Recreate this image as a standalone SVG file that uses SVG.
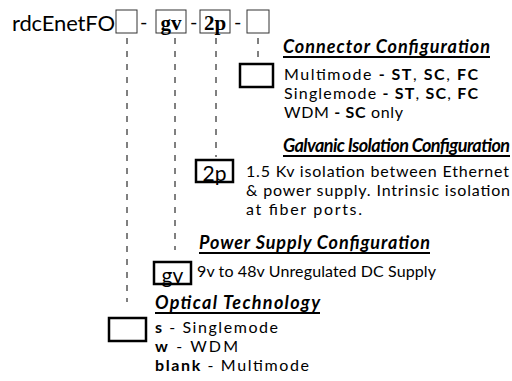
<svg xmlns="http://www.w3.org/2000/svg" width="512" height="381" viewBox="0 0 512 381">
<style>
text{font-family:Lato,"Open Sans","DejaVu Sans",sans-serif;fill:#000}
.t{font-size:16px}
.h{font-size:18px;font-weight:bold;font-style:italic}
.b{font-weight:bold}
.code{font-family:"Liberation Serif",serif;font-weight:bold;font-size:21px}
.sm{fill:#fff;stroke:#333;stroke-width:1}
.bx{fill:#fff;stroke:#000;stroke-width:2.5}
.ul{stroke:#000;stroke-width:2}
.dash{stroke:#000;stroke-width:1;stroke-dasharray:6 7;fill:none}
</style>
<g id="part-number">
<text x="12" y="31" font-size="22" textLength="103">rdcEnetFO</text>
<rect class="sm" x="116" y="10" width="21" height="23"/>
<text x="140" y="29" font-size="20">-</text>
<rect class="sm" x="156" y="10" width="30" height="23"/>
<text class="code" x="171" y="30" text-anchor="middle">gv</text>
<text x="190" y="29" font-size="20">-</text>
<rect class="sm" x="200" y="10" width="30" height="23"/>
<text class="code" x="215" y="30" text-anchor="middle">2p</text>
<text x="234" y="29" font-size="20">-</text>
<rect class="sm" x="247" y="10" width="22" height="23"/>
</g>
<g id="connectors">
<line class="dash" x1="127" y1="38" x2="127" y2="302"/>
<line class="dash" x1="175" y1="38" x2="175" y2="250"/>
<line class="dash" x1="216" y1="38" x2="216" y2="157"/>
<line class="dash" x1="258" y1="38" x2="258" y2="62"/>
</g>
<g id="connector-config">
<text class="h" x="283" y="53" textLength="207">Connector Configuration</text>
<line class="ul" x1="283" y1="57" x2="490" y2="57"/>
<rect class="bx" x="240" y="64" width="33" height="23"/>
<text class="t" x="284" y="80" textLength="194">Multimode <tspan class="b">- ST</tspan>, <tspan class="b">SC</tspan>, <tspan class="b">FC</tspan></text>
<text class="t" x="284" y="99" textLength="194">Singlemode <tspan class="b">- ST</tspan>, <tspan class="b">SC</tspan>, <tspan class="b">FC</tspan></text>
<text class="t" x="284" y="118" textLength="119">WDM <tspan class="b">- SC</tspan> only</text>
</g>
<g id="galvanic-config">
<text class="h" x="283" y="152" textLength="227">Galvanic Isolation Configuration</text>
<line class="ul" x1="283" y1="156" x2="510" y2="156"/>
<rect class="bx" x="196" y="160" width="37" height="22"/>
<text x="214.5" y="181" font-size="21" text-anchor="middle">2p</text>
<text class="t" x="246" y="177" textLength="263">1.5 Kv isolation between Ethernet</text>
<text class="t" x="246" y="196" textLength="264">&amp; power supply. Intrinsic isolation</text>
<text class="t" x="246" y="215" textLength="116">at fiber ports.</text>
</g>
<g id="power-config">
<text class="h" x="199" y="249" textLength="231">Power Supply Configuration</text>
<line class="ul" x1="199" y1="253" x2="430" y2="253"/>
<rect class="bx" x="154" y="262" width="37" height="22"/>
<text x="172.5" y="283" font-size="21" text-anchor="middle">gv</text>
<text class="t" x="197" y="277" textLength="239">9v to 48v Unregulated DC Supply</text>
</g>
<g id="optical-tech">
<text class="h" x="155" y="309" textLength="165">Optical Technology</text>
<line class="ul" x1="155" y1="313" x2="320" y2="313"/>
<rect class="bx" x="109" y="318" width="37" height="23"/>
<text class="t" x="155" y="333" textLength="123"><tspan class="b">s</tspan> - Singlemode</text>
<text class="t" x="155" y="352" textLength="83"><tspan class="b">w</tspan> - WDM</text>
<text class="t" x="155" y="371" textLength="154"><tspan class="b">blank</tspan> - Multimode</text>
</g>
</svg>
